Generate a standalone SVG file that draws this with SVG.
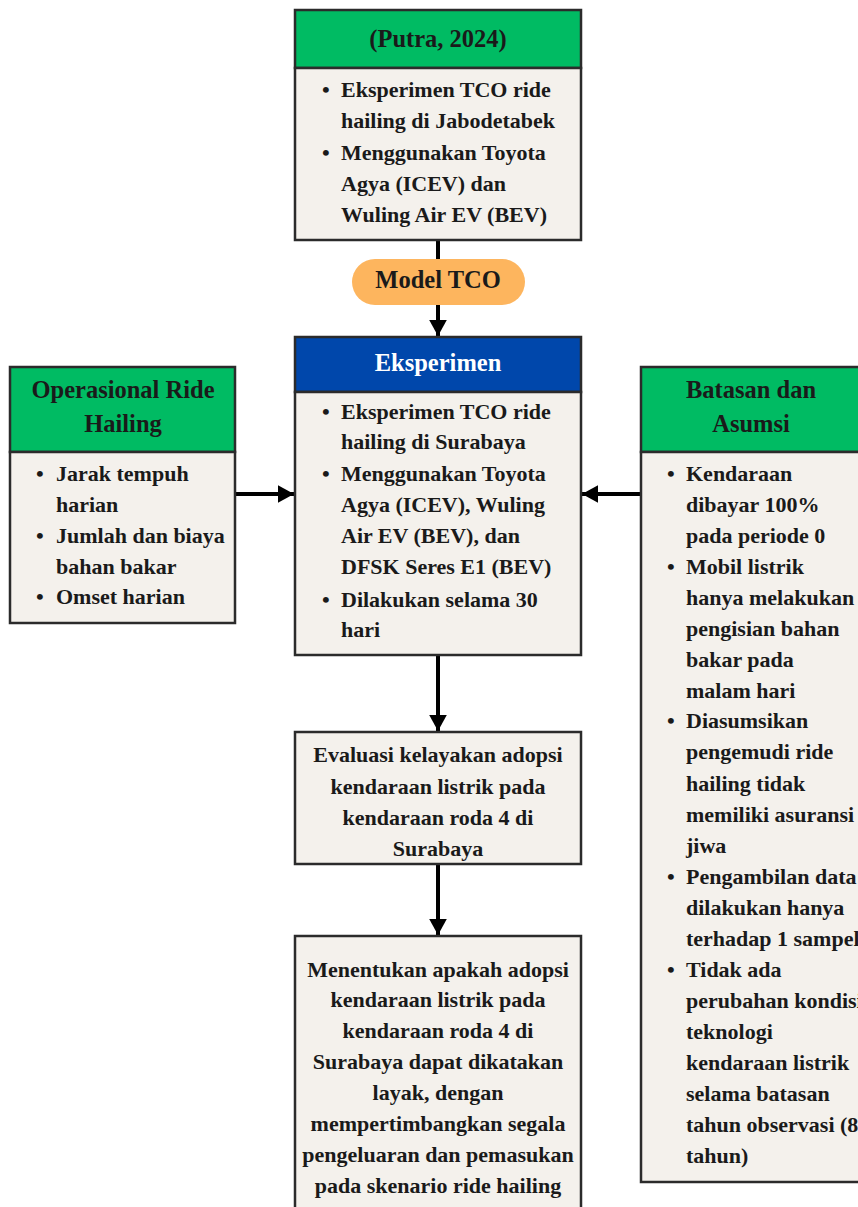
<svg xmlns="http://www.w3.org/2000/svg" width="858" height="1207" viewBox="0 0 858 1207">
<style>
.box{fill:#F4F1EC;stroke:#2b2b2b;stroke-width:2.5}
.green{fill:#00BB63;stroke:#2b2b2b;stroke-width:2.5}
.blue{fill:#0047AB;stroke:#2b2b2b;stroke-width:2.5}
.pill{fill:#FDB55E}
text{font-family:"Liberation Serif","Times New Roman",serif;font-weight:bold;fill:#1a1a1a}
.b{font-size:22px}
.h{font-size:24.5px;text-anchor:middle}
.c{font-size:22px;text-anchor:middle}
.w{fill:#ffffff}
.conn{stroke:#000;stroke-width:4;fill:none}
</style>
<defs>
<marker id="arr" markerWidth="5" markerHeight="5" refX="4" refY="2.5" orient="auto" markerUnits="strokeWidth">
<path d="M0,0.3 L4,2.5 L0,4.7 Z" fill="#000"/>
</marker>
</defs>
<g id="connectors">
<line class="conn" x1="438" y1="240" x2="438" y2="262"/>
<line class="conn" x1="438" y1="304" x2="438" y2="336" marker-end="url(#arr)"/>
<line class="conn" x1="236" y1="494" x2="294" y2="494" marker-end="url(#arr)"/>
<line class="conn" x1="641" y1="494" x2="582" y2="494" marker-end="url(#arr)"/>
<line class="conn" x1="438" y1="656" x2="438" y2="731" marker-end="url(#arr)"/>
<line class="conn" x1="438" y1="865" x2="438" y2="935" marker-end="url(#arr)"/>
</g>
<g id="putra">
<rect class="green" x="295" y="10" width="286" height="58"/>
<rect class="box" x="295" y="68" width="286" height="172"/>
<text class="h" x="438" y="47">(Putra, 2024)</text>
<text class="b" x="322" y="97">•</text><text class="b" x="341" y="97">Eksperimen TCO ride</text>
<text class="b" x="341" y="128">hailing di Jabodetabek</text>
<text class="b" x="322" y="160">•</text><text class="b" x="341" y="160">Menggunakan Toyota</text>
<text class="b" x="341" y="191">Agya (ICEV) dan</text>
<text class="b" x="341" y="222">Wuling Air EV (BEV)</text>
</g>
<g id="model-tco">
<rect class="pill" x="352" y="259" width="173" height="46" rx="23"/>
<text class="h" x="438" y="288">Model TCO</text>
</g>
<g id="eksperimen">
<rect class="blue" x="295" y="337" width="286" height="55"/>
<rect class="box" x="295" y="392" width="286" height="263"/>
<text class="h w" x="438" y="371">Eksperimen</text>
<text class="b" x="322" y="419">•</text><text class="b" x="341" y="419">Eksperimen TCO ride</text>
<text class="b" x="341" y="449">hailing di Surabaya</text>
<text class="b" x="322" y="481">•</text><text class="b" x="341" y="481">Menggunakan Toyota</text>
<text class="b" x="341" y="512">Agya (ICEV), Wuling</text>
<text class="b" x="341" y="543">Air EV (BEV), dan</text>
<text class="b" x="341" y="574">DFSK Seres E1 (BEV)</text>
<text class="b" x="322" y="607">•</text><text class="b" x="341" y="607">Dilakukan selama 30</text>
<text class="b" x="341" y="637">hari</text>
</g>
<g id="operasional">
<rect class="green" x="10" y="367" width="225" height="85"/>
<rect class="box" x="10" y="452" width="225" height="171"/>
<text class="h" x="123" y="398">Operasional Ride</text>
<text class="h" x="123" y="432">Hailing</text>
<text class="b" x="36" y="481">•</text><text class="b" x="56" y="481">Jarak tempuh</text>
<text class="b" x="56" y="512">harian</text>
<text class="b" x="36" y="543">•</text><text class="b" x="56" y="543">Jumlah dan biaya</text>
<text class="b" x="56" y="574">bahan bakar</text>
<text class="b" x="36" y="604">•</text><text class="b" x="56" y="604">Omset harian</text>
</g>
<g id="batasan">
<rect class="green" x="641" y="367" width="222" height="85"/>
<rect class="box" x="641" y="452" width="222" height="730"/>
<text class="h" x="751" y="398">Batasan dan</text>
<text class="h" x="751" y="432">Asumsi</text>
<text class="b" x="667" y="481">•</text><text class="b" x="686" y="481">Kendaraan</text>
<text class="b" x="686" y="512">dibayar 100%</text>
<text class="b" x="686" y="543">pada periode 0</text>
<text class="b" x="667" y="574">•</text><text class="b" x="686" y="574">Mobil listrik</text>
<text class="b" x="686" y="605">hanya melakukan</text>
<text class="b" x="686" y="636">pengisian bahan</text>
<text class="b" x="686" y="667">bakar pada</text>
<text class="b" x="686" y="698">malam hari</text>
<text class="b" x="667" y="728">•</text><text class="b" x="686" y="728">Diasumsikan</text>
<text class="b" x="686" y="759">pengemudi ride</text>
<text class="b" x="686" y="791">hailing tidak</text>
<text class="b" x="686" y="822">memiliki asuransi</text>
<text class="b" x="686" y="853">jiwa</text>
<text class="b" x="667" y="884">•</text><text class="b" x="686" y="884">Pengambilan data</text>
<text class="b" x="686" y="915">dilakukan hanya</text>
<text class="b" x="686" y="946">terhadap 1 sampel</text>
<text class="b" x="667" y="977">•</text><text class="b" x="686" y="977">Tidak ada</text>
<text class="b" x="686" y="1008">perubahan kondisi</text>
<text class="b" x="686" y="1039">teknologi</text>
<text class="b" x="686" y="1070">kendaraan listrik</text>
<text class="b" x="686" y="1101">selama batasan</text>
<text class="b" x="686" y="1132">tahun observasi (8</text>
<text class="b" x="686" y="1163">tahun)</text>
</g>
<g id="evaluasi">
<rect class="box" x="295" y="732" width="286" height="132"/>
<text class="c" x="438" y="762">Evaluasi kelayakan adopsi</text>
<text class="c" x="438" y="794">kendaraan listrik pada</text>
<text class="c" x="438" y="825">kendaraan roda 4 di</text>
<text class="c" x="438" y="856">Surabaya</text>
</g>
<g id="menentukan">
<rect class="box" x="295" y="936" width="286" height="285"/>
<text class="c" x="438" y="977">Menentukan apakah adopsi</text>
<text class="c" x="438" y="1007">kendaraan listrik pada</text>
<text class="c" x="438" y="1038">kendaraan roda 4 di</text>
<text class="c" x="438" y="1069">Surabaya dapat dikatakan</text>
<text class="c" x="438" y="1100">layak, dengan</text>
<text class="c" x="438" y="1131">mempertimbangkan segala</text>
<text class="c" x="438" y="1162">pengeluaran dan pemasukan</text>
<text class="c" x="438" y="1193">pada skenario ride hailing</text>
</g>
</svg>
